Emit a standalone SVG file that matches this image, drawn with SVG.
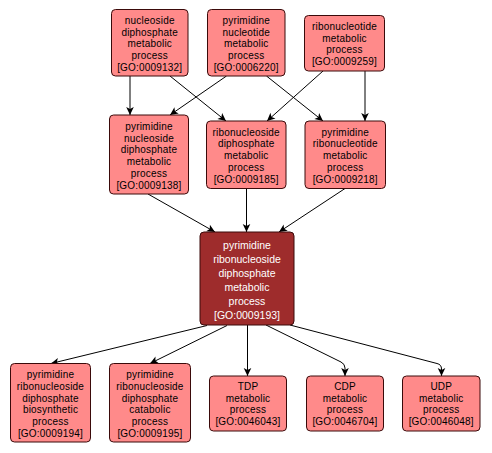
<svg xmlns="http://www.w3.org/2000/svg" width="492" height="453" viewBox="0 0 492 453">
<defs>
<style>
.n rect{fill:#ff8a8a;stroke:#3a0a0a;stroke-width:1}
.c rect{fill:#9e2c2c;stroke:#3a0a0a;stroke-width:1}
.n text{font-family:"Liberation Sans",Arial,sans-serif;font-size:10px;letter-spacing:0.2px;fill:#000;text-anchor:middle}
.c text{font-family:"Liberation Sans",Arial,sans-serif;font-size:10.5px;fill:#fff;text-anchor:middle}
.e path{fill:none;stroke:#000;stroke-width:1;marker-end:url(#ah)}
</style>
<marker id="ah" markerUnits="userSpaceOnUse" markerWidth="10" markerHeight="10" viewBox="-9 -5 10 10" refX="0" refY="0" orient="auto">
<path d="M0,0 L-8,-3.8 L-6,0 L-8,3.8 Z" fill="#000"/>
</marker>
</defs>
<g id="edges" class="e">
<path d="M130,76 L130,115"/>
<path d="M170,76 L226,121"/>
<path d="M226.5,76 L170,115"/>
<path d="M266.5,76 L323,121"/>
<path d="M323,71 L267,121"/>
<path d="M365,71 L365,121"/>
<path d="M148,194 L215,232"/>
<path d="M246.5,188.5 L246.5,232"/>
<path d="M345,188.5 L279,232"/>
<path d="M207,325.5 L51,363.5"/>
<path d="M227,325.5 L150,363.5"/>
<path d="M247.5,325 L247.5,376"/>
<path d="M266,325 L341,362 Q345,364 345,368 L345,376"/>
<path d="M290,325 L437,363.5 Q441.5,364.5 441.5,369 L441.5,376"/>
</g>
<g id="GO0009132" class="n"><rect x="111.5" y="9.5" width="76.5" height="66.5" rx="4"/>
<text x="149.75" y="24">nucleoside</text><text x="149.75" y="35.7">diphosphate</text><text x="149.75" y="47.4">metabolic</text><text x="149.75" y="59.1">process</text><text x="149.75" y="70.8">[GO:0009132]</text></g>
<g id="GO0006220" class="n"><rect x="207.5" y="9.5" width="77.5" height="66.5" rx="4"/>
<text x="246.25" y="24">pyrimidine</text><text x="246.25" y="35.7">nucleotide</text><text x="246.25" y="47.4">metabolic</text><text x="246.25" y="59.1">process</text><text x="246.25" y="70.8">[GO:0006220]</text></g>
<g id="GO0009259" class="n"><rect x="304.5" y="15.5" width="80" height="55.5" rx="4"/>
<text x="344.5" y="29.8">ribonucleotide</text><text x="344.5" y="41.5">metabolic</text><text x="344.5" y="53.2">process</text><text x="344.5" y="64.9">[GO:0009259]</text></g>
<g id="GO0009138" class="n"><rect x="109.5" y="115" width="79" height="79" rx="4"/>
<text x="149" y="130">pyrimidine</text><text x="149" y="141.7">nucleoside</text><text x="149" y="153.4">diphosphate</text><text x="149" y="165.1">metabolic</text><text x="149" y="176.8">process</text><text x="149" y="188.5">[GO:0009138]</text></g>
<g id="GO0009185" class="n"><rect x="206.5" y="121" width="79.5" height="67.5" rx="4"/>
<text x="246.25" y="135.7">ribonucleoside</text><text x="246.25" y="147.4">diphosphate</text><text x="246.25" y="159.1">metabolic</text><text x="246.25" y="170.8">process</text><text x="246.25" y="182.5">[GO:0009185]</text></g>
<g id="GO0009218" class="n"><rect x="305" y="121" width="80.5" height="67.5" rx="4"/>
<text x="345.25" y="135.7">pyrimidine</text><text x="345.25" y="147.4">ribonucleotide</text><text x="345.25" y="159.1">metabolic</text><text x="345.25" y="170.8">process</text><text x="345.25" y="182.5">[GO:0009218]</text></g>
<g id="GO0009193" class="c"><rect x="200" y="232" width="94" height="93" rx="4"/>
<text x="247" y="249">pyrimidine</text><text x="247" y="263">ribonucleoside</text><text x="247" y="277">diphosphate</text><text x="247" y="291">metabolic</text><text x="247" y="305">process</text><text x="247" y="319">[GO:0009193]</text></g>
<g id="GO0009194" class="n"><rect x="10.5" y="363.5" width="80" height="78.5" rx="4"/>
<text x="50.5" y="378.3">pyrimidine</text><text x="50.5" y="390">ribonucleoside</text><text x="50.5" y="401.7">diphosphate</text><text x="50.5" y="413.4">biosynthetic</text><text x="50.5" y="425.1">process</text><text x="50.5" y="436.8">[GO:0009194]</text></g>
<g id="GO0009195" class="n"><rect x="109.5" y="363.5" width="81" height="78.5" rx="4"/>
<text x="150" y="378.3">pyrimidine</text><text x="150" y="390">ribonucleoside</text><text x="150" y="401.7">diphosphate</text><text x="150" y="413.4">catabolic</text><text x="150" y="425.1">process</text><text x="150" y="436.8">[GO:0009195]</text></g>
<g id="GO0046043" class="n"><rect x="209.5" y="376" width="77" height="55" rx="4"/>
<text x="248" y="390">TDP</text><text x="248" y="401.7">metabolic</text><text x="248" y="413.4">process</text><text x="248" y="425.1">[GO:0046043]</text></g>
<g id="GO0046704" class="n"><rect x="306.5" y="376" width="77" height="55" rx="4"/>
<text x="345" y="390">CDP</text><text x="345" y="401.7">metabolic</text><text x="345" y="413.4">process</text><text x="345" y="425.1">[GO:0046704]</text></g>
<g id="GO0046048" class="n"><rect x="402.5" y="376" width="77.5" height="55" rx="4"/>
<text x="441.25" y="390">UDP</text><text x="441.25" y="401.7">metabolic</text><text x="441.25" y="413.4">process</text><text x="441.25" y="425.1">[GO:0046048]</text></g>
</svg>
